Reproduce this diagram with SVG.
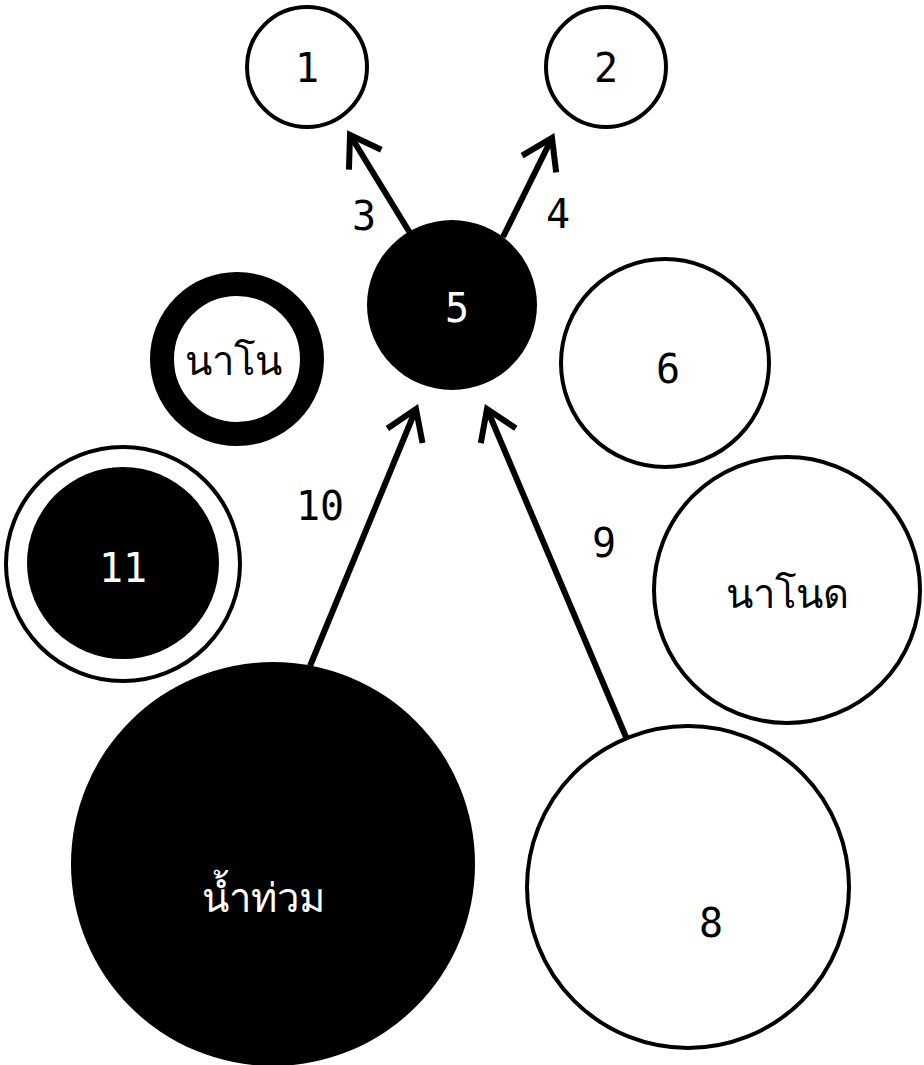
<svg xmlns="http://www.w3.org/2000/svg" width="924" height="1065" viewBox="0 0 924 1065">
<style>
.w{fill:#fff;stroke:#000;stroke-width:4}
.b{fill:#000;stroke:none}
text{font-family:"DejaVu Sans Mono","Liberation Mono",monospace;font-size:40px;text-anchor:middle}
.tw{fill:#fff}
.tb{fill:#000}
.c{fill:none;stroke:#000;stroke-width:6}
</style>
<defs>
<marker id="ah" markerUnits="userSpaceOnUse" viewBox="-40 -30 50 60" refX="0" refY="0" markerWidth="50" markerHeight="60" orient="auto">
<path d="M-29,-19 L0,0 L-29,19" fill="none" stroke="#000" stroke-width="6" stroke-linejoin="miter" stroke-miterlimit="10"/>
</marker>
</defs>
<rect width="924" height="1065" fill="#fff"/>
<g id="n1"><circle class="w" cx="307" cy="67" r="60"/><text class="tb" x="307" y="82">1</text></g>
<g id="n2"><circle class="w" cx="606" cy="67" r="60"/><text class="tb" x="606" y="82">2</text></g>
<g id="n5"><circle class="b" cx="452" cy="305" r="85"/><text class="tw" x="457" y="322">5</text></g>
<g id="nano"><circle cx="237" cy="359" r="75" fill="#fff" stroke="#000" stroke-width="24"/><text class="tb" x="233" y="375">นาโน</text></g>
<g id="n6"><circle class="w" cx="665" cy="363" r="104"/><text class="tb" x="668" y="383">6</text></g>
<g id="n11"><circle class="w" cx="123" cy="564" r="117"/><circle class="b" cx="123" cy="563" r="96"/><text class="tw" x="123" y="582">11</text></g>
<g id="nanod"><circle class="w" cx="787" cy="590" r="133"/><text class="tb" x="787" y="608">นาโนด</text></g>
<g id="flood"><circle class="b" cx="273" cy="864" r="202"/><text class="tw" x="263" y="912">น้ำท่วม</text></g>
<g id="n8"><circle class="w" cx="688" cy="887" r="161"/><text class="tb" x="711" y="937">8</text></g>
<g id="connectors">
<line class="c" x1="410" y1="233" x2="350" y2="135" marker-end="url(#ah)"/>
<line class="c" x1="503" y1="237" x2="552" y2="138" marker-end="url(#ah)"/>
<line class="c" x1="310" y1="666" x2="416" y2="409" marker-end="url(#ah)"/>
<line class="c" x1="626" y1="737" x2="487" y2="409" marker-end="url(#ah)"/>
<text class="tb" x="364" y="230">3</text>
<text class="tb" x="558" y="228">4</text>
<text class="tb" x="320" y="520">10</text>
<text class="tb" x="604" y="557">9</text>
</g>
</svg>
